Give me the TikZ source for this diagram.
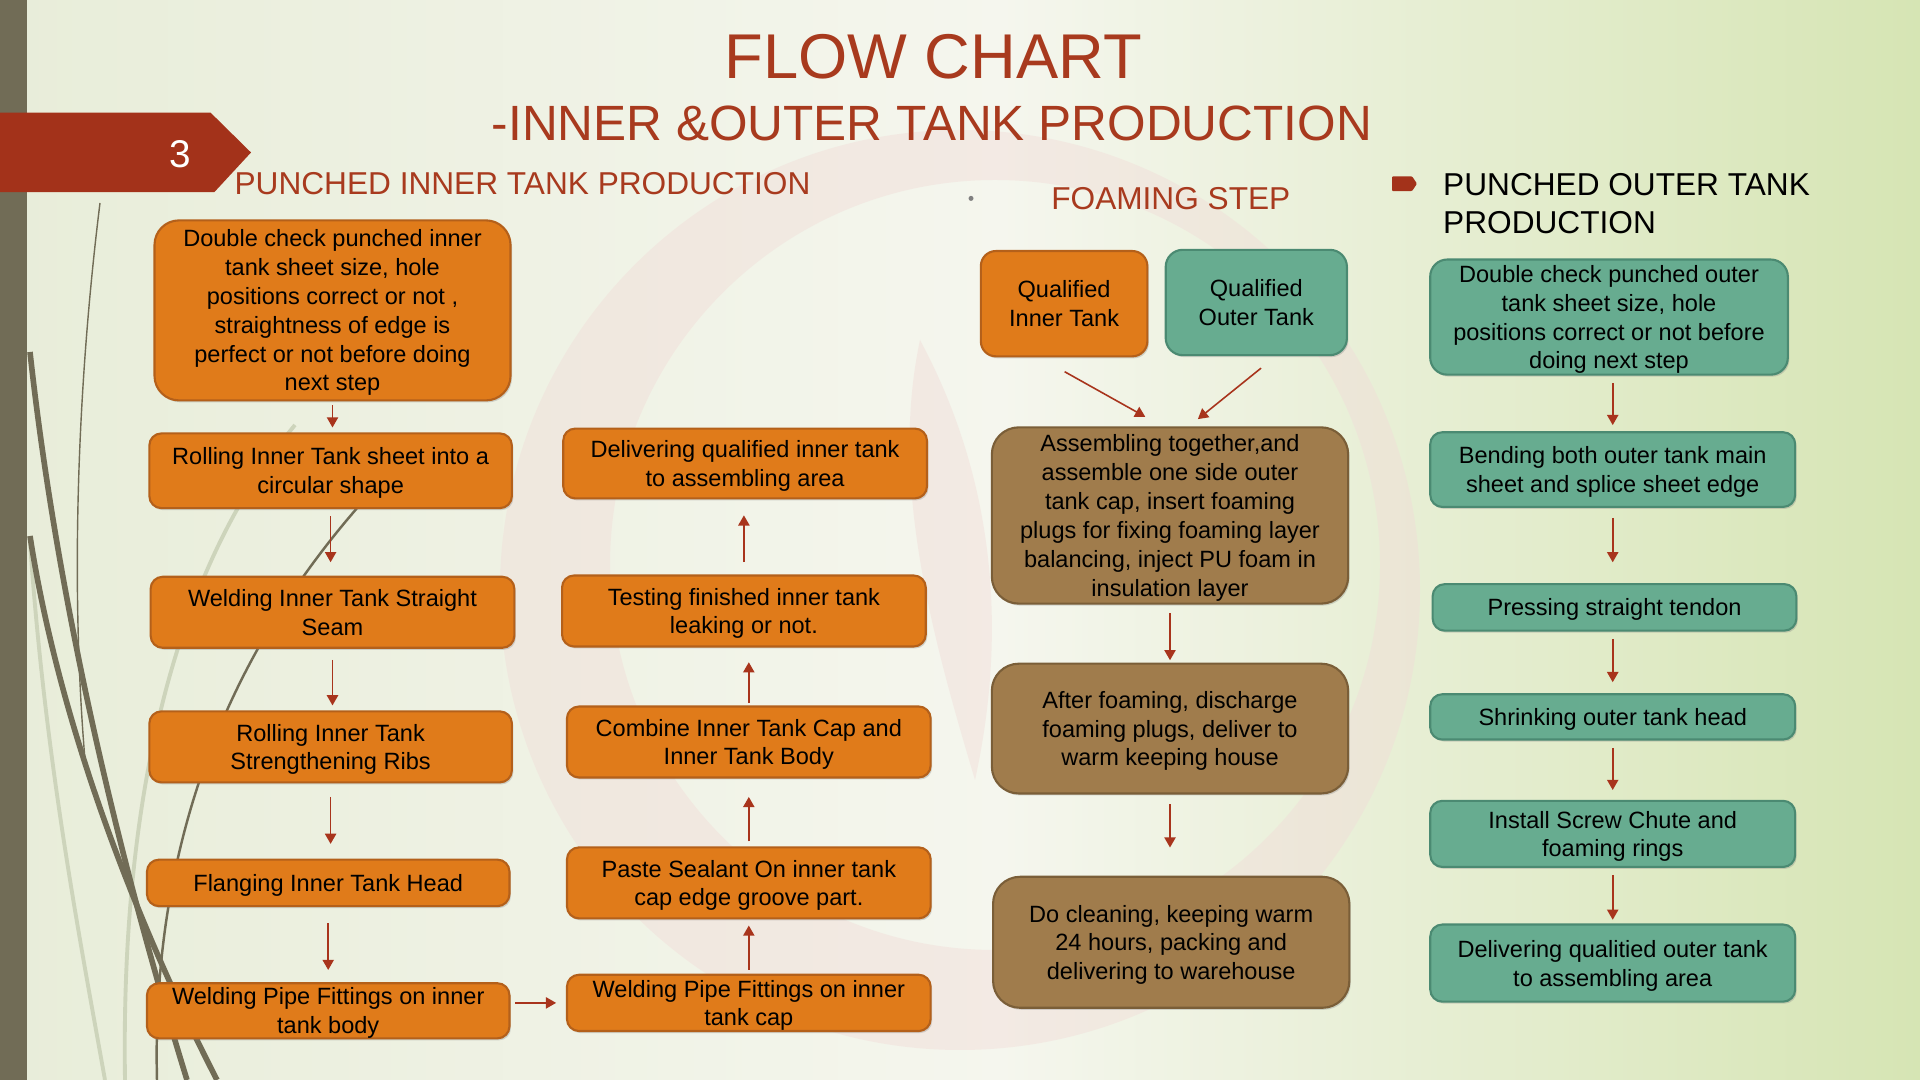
\documentclass[tikz,border=0pt]{standalone}
\usepackage{fontspec}
\setmainfont{Liberation Sans}
\usetikzlibrary{calc,arrows.meta,shadows}

\definecolor{rust}{HTML}{A83A1E}
\definecolor{badgered}{HTML}{A3321A}
\definecolor{barolive}{HTML}{716C56}
\definecolor{decolight}{HTML}{CDD4BB}
\definecolor{innerfill}{HTML}{E07B1A}
\definecolor{innerline}{HTML}{B4601A}
\definecolor{outerfill}{HTML}{67AC90}
\definecolor{outerline}{HTML}{4B8A72}
\definecolor{foamfill}{HTML}{A07C4C}
\definecolor{foamline}{HTML}{7A5E38}
\definecolor{arrowred}{HTML}{A8341C}
\definecolor{bgleft}{HTML}{E8EDD9}
\definecolor{bgmid}{HTML}{F5F6EE}
\definecolor{bgright}{HTML}{D6E5B4}
\definecolor{wmpink}{HTML}{F1DCD8}

\newcommand\boxfont{\fontsize{6.7}{8.2}\selectfont}

\tikzset{
  stepbox/.style={draw=innerline, fill=innerfill, line width=0.6pt, rounded corners=0.12cm,
    align=center, inner sep=1pt, font=\boxfont, text=black, text depth=-0.7pt,
    drop shadow={shadow xshift=0.015cm, shadow yshift=-0.02cm, opacity=0.3}},
  innerstep/.style={stepbox},
  outerstep/.style={stepbox, draw=outerline, fill=outerfill},
  foamstep/.style={stepbox, draw=foamline, fill=foamfill, rounded corners=0.27cm},
  flow/.style={arrowred, line width=0.45pt, -{Triangle[length=2.9pt,width=3.2pt]}},
  heading/.style={font=\fontsize{9}{10.8}\selectfont, inner sep=0pt},
}

\begin{document}
\begin{tikzpicture}
    \useasboundingbox (0,0) rectangle (19.2,10.8);

    % --- Slide background ---
    \shade[left color=bgleft, right color=bgmid] (0,0) rectangle (10.05,10.8);
    \shade[left color=bgmid, right color=bgright] (10,0) rectangle (19.2,10.8);

    % faint watermark swirl
    \fill[wmpink, opacity=0.45, even odd rule] (9.6,4.9) circle (4.6) (9.95,5.15) circle (3.85);
    \fill[wmpink, opacity=0.45] (9.2,7.4) .. controls (9.9,6.1) and (10.1,4.6) .. (9.75,3.0)
        .. controls (9.3,4.5) and (8.9,6.0) .. cycle;

    % left olive bar and sweeping lines
    \fill[barolive] (0,0) rectangle (0.27,10.8);
    \draw[decolight, line width=1.1pt] (0.30,5.38) .. controls (0.45,3.2) and (0.8,1.4) .. (1.05,0);
    \draw[decolight, line width=1.1pt] (2.95,6.55) .. controls (1.9,5.3) and (1.2,3.2) .. (1.25,0);
    \draw[barolive, line width=0.4pt] (1.00,8.77) .. controls (0.78,7.0) and (0.70,5.0) .. (0.85,3.2);
    \draw[barolive, line width=1.6pt] (0.30,7.28) .. controls (0.55,5.0) and (1.1,2.5) .. (1.87,0);
    \draw[barolive, line width=1.6pt] (0.30,5.44) .. controls (0.6,3.5) and (1.4,1.5) .. (2.17,0);
    \draw[barolive, line width=0.7pt] (3.58,5.73) .. controls (2.6,4.6) and (1.5,2.8) .. (1.57,0);

    % --- Page badge ---
    \fill[badgered] (0,9.673) -- (2.106,9.673) -- (2.510,9.275) -- (2.143,8.878) -- (0,8.878) -- cycle;
    \node[white, font=\fontsize{11}{13}\selectfont] (pagenum) at (1.806,9.26) {3};

    % --- Titles ---
    \node[rust, font=\fontsize{18}{20}\selectfont, anchor=base] (title) at (9.331,10.016) {FLOW CHART};
    \node[rust, font=\fontsize{14.1}{16}\selectfont, anchor=base] (subtitle) at (9.318,9.398) {-INNER \&OUTER TANK PRODUCTION};
    \node[heading, rust, anchor=base west] (innerhead) at (2.339,8.853) {PUNCHED INNER TANK PRODUCTION};
    \fill[gray] (9.710,8.816) circle (0.025);
    \node[heading, rust, anchor=base west] (foamhead) at (10.506,8.706) {FOAMING STEP};
    \fill[badgered, rounded corners=0.3pt] (13.92,9.037) -- (14.12,9.037) -- (14.17,8.963) -- (14.12,8.889) -- (13.92,8.889) -- cycle;
    \node[heading, align=left, anchor=north west] (outerhead) at (14.425,9.077) {PUNCHED OUTER TANK\\PRODUCTION};

    % --- Inner tank: first column (top to bottom) ---
    \node[innerstep, minimum width=3.56cm, minimum height=1.80cm, rounded corners=0.245cm] (ichk) at (3.325,7.696)
        {Double check punched inner\\tank sheet size, hole\\positions correct or not ,\\straightness of edge is\\perfect or not before doing\\next step};
    \node[innerstep, minimum width=3.625cm, minimum height=0.747cm] (iroll) at (3.306,6.092) {Rolling Inner Tank sheet into a\\circular shape};
    \node[innerstep, minimum width=3.637cm, minimum height=0.71cm] (iweld) at (3.325,4.677) {Welding Inner Tank Straight\\Seam};
    \node[innerstep, minimum width=3.625cm, minimum height=0.71cm] (irib) at (3.306,3.331) {Rolling Inner Tank\\Strengthening Ribs};
    \node[innerstep, minimum width=3.625cm, minimum height=0.465cm] (iflange) at (3.282,1.971) {Flanging Inner Tank Head};
    \node[innerstep, minimum width=3.625cm, minimum height=0.551cm, inner ysep=0pt] (ipipe) at (3.282,0.692) {Welding Pipe Fittings on inner\\tank body};

    % --- Inner tank: second column (bottom to top) ---
    \node[innerstep, minimum width=3.637cm, minimum height=0.563cm, inner ysep=0pt] (icappipe) at (7.488,0.771) {Welding Pipe Fittings on inner\\tank cap};
    \node[innerstep, minimum width=3.637cm, minimum height=0.71cm] (iseal) at (7.488,1.971) {Paste Sealant On inner tank\\cap edge groove part.};
    \node[innerstep, minimum width=3.637cm, minimum height=0.71cm] (icombine) at (7.488,3.380) {Combine Inner Tank Cap and\\Inner Tank Body};
    \node[innerstep, minimum width=3.637cm, minimum height=0.71cm] (itest) at (7.439,4.690) {Testing finished inner tank\\leaking or not.};
    \node[innerstep, minimum width=3.637cm, minimum height=0.698cm] (ideliver) at (7.451,6.165) {Delivering qualified inner tank\\to assembling area};

    % --- Foaming step ---
    \node[innerstep, minimum width=1.665cm, minimum height=1.053cm, rounded corners=0.15cm] (qin) at (10.641,7.763) {Qualified\\Inner Tank};
    \node[outerstep, minimum width=1.812cm, minimum height=1.053cm, rounded corners=0.17cm] (qout) at (12.563,7.775) {Qualified\\Outer Tank};
    \node[foamstep, minimum width=3.563cm, minimum height=1.763cm] (asm) at (11.700,5.645)
        {Assembling together,and\\assemble one side outer\\tank cap, insert foaming\\plugs for fixing foaming layer\\balancing, inject PU foam in\\insulation layer};
    \node[foamstep, minimum width=3.563cm, minimum height=1.298cm] (disch) at (11.700,3.514) {After foaming, discharge\\foaming plugs, deliver to\\warm keeping house};
    \node[foamstep, minimum width=3.563cm, minimum height=1.310cm] (clean) at (11.712,1.377) {Do cleaning, keeping warm\\24 hours, packing and\\delivering to warehouse};

    % --- Outer tank column ---
    \node[outerstep, minimum width=3.576cm, minimum height=1.151cm, rounded corners=0.17cm] (ochk) at (16.090,7.629)
        {Double check punched outer\\tank sheet size, hole\\positions correct or not before\\doing next step};
    \node[outerstep, minimum width=3.649cm, minimum height=0.747cm] (obend) at (16.127,6.104) {Bending both outer tank main\\sheet and splice sheet edge};
    \node[outerstep, minimum width=3.637cm, minimum height=0.465cm] (opress) at (16.145,4.726) {Pressing straight tendon};
    \node[outerstep, minimum width=3.649cm, minimum height=0.453cm] (oshrink) at (16.127,3.631) {Shrinking outer tank head};
    \node[outerstep, minimum width=3.649cm, minimum height=0.661cm] (oscrew) at (16.127,2.461) {Install Screw Chute and\\foaming rings};
    \node[outerstep, minimum width=3.649cm, minimum height=0.771cm] (odeliver) at (16.127,1.169) {Delivering qualitied outer tank\\to assembling area};

    % --- Connectors: inner tank ---
    \draw[flow, shorten <=0.037cm, shorten >=0.049cm] (ichk.south) -- (ichk.south |- iroll.north);
    \draw[flow, shorten <=0.073cm, shorten >=0.135cm] (iroll.south) -- (iroll.south |- iweld.north);
    \draw[flow, shorten <=0.110cm, shorten >=0.049cm] (iweld.south) -- (iweld.south |- irib.north);
    \draw[flow, shorten <=0.135cm, shorten >=0.147cm] (irib.south) -- (irib.south |- iflange.north);
    \draw[flow, shorten <=0.159cm, shorten >=0.122cm] (iflange.south) -- (ipipe.north);
    \draw[flow, shorten <=0.049cm, shorten >=0.098cm] (icappipe.west -| ipipe.east) -- (icappipe.west);
    \draw[flow, shorten <=0.037cm, shorten >=0.061cm] (icappipe.north) -- (iseal.south);
    \draw[flow, shorten <=0.049cm, shorten >=0.184cm] (iseal.north) -- (icombine.south);
    \draw[flow, shorten <=0.024cm, shorten >=0.147cm] (icombine.north) -- (icombine.north |- itest.south);
    \draw[flow, shorten <=0.122cm, shorten >=0.159cm] (itest.north) -- (itest.north |- ideliver.south);

    % --- Connectors: foaming ---
    \draw[flow, shorten <=0.293cm, shorten >=0.194cm] (qin.245) -- (asm.95);
    \draw[flow, shorten <=0.190cm, shorten >=0.114cm] (qout.290) -- (asm.78);
    \draw[flow, shorten <=0.086cm, shorten >=0.024cm] (asm.south) -- (disch.north);
    \draw[flow, shorten <=0.098cm, shorten >=0.282cm] (disch.south) -- (disch.south |- clean.north);

    % --- Connectors: outer tank ---
    \draw[flow, shorten <=0.073cm, shorten >=0.061cm] (obend.north |- ochk.south) -- (obend.north);
    \draw[flow, shorten <=0.098cm, shorten >=0.208cm] (obend.south) -- (obend.south |- opress.north);
    \draw[flow, shorten <=0.073cm, shorten >=0.110cm] (oshrink.north |- opress.south) -- (oshrink.north);
    \draw[flow, shorten <=0.073cm, shorten >=0.098cm] (oshrink.south) -- (oscrew.north);
    \draw[flow, shorten <=0.073cm, shorten >=0.037cm] (oscrew.south) -- (odeliver.north);
\end{tikzpicture}
\end{document}
